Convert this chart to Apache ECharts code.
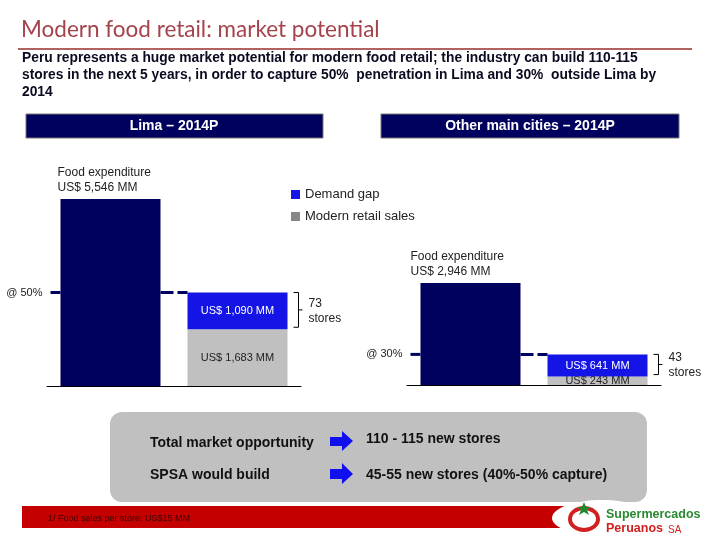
<!DOCTYPE html>
<html>
<head>
<meta charset="utf-8">
<script src="https://cdn.jsdelivr.net/npm/echarts@6/dist/echarts.min.js"></script>
<style>
  html, body { margin: 0; padding: 0; background: #fff; }
  #chart { width: 720px; height: 540px; }
</style>
</head>
<body>
<div id="chart"></div>
<script>
const regions = ["Lima – 2014P", "Other main cities – 2014P"];
const barNames = ["Food expenditure", "Target"];
const foodExpenditure = [5546, 2946];
const modernRetail = [1683, 243];
const demandGap = [1090, 641];
const penetration = [50, 30];
const newStores = [73, 43];

const NAVY = "#00005e";
const BLUE = "#1414e6";
const GRAY = "#c0c0c0";
const FONT = 'Arial, "Liberation Sans", sans-serif';

const money = (v) => "US$ " + v.toLocaleString("en-US") + " MM";

const grids = [
  { left: 47, width: 254, top: 199, height: 187 },
  { left: 407, width: 254, top: 283, height: 102 },
];
const foodLabelPos = [[-3, -34], [-10, -34]];

function regionSeries(i) {
  const common = {
    type: "bar", xAxisIndex: i, yAxisIndex: i, stack: "r" + i,
    barWidth: 100, animation: false,
  };
  return [
    {
      ...common, name: "Food expenditure",
      data: [foodExpenditure[i], "-"],
      itemStyle: { color: NAVY },
      label: {
        show: true, position: foodLabelPos[i], align: "left",
        fontFamily: FONT, fontSize: 12, lineHeight: 15, color: "#222",
        formatter: () => "Food expenditure\n" + money(foodExpenditure[i]),
      },
    },
    {
      ...common, name: "Modern retail sales",
      data: ["-", modernRetail[i]],
      itemStyle: { color: GRAY },
      label: {
        show: true, position: "inside", fontFamily: FONT, fontSize: 11,
        color: "#222", formatter: () => money(modernRetail[i]),
      },
    },
    {
      ...common, name: "Demand gap",
      data: ["-", demandGap[i]],
      itemStyle: { color: BLUE },
      label: {
        show: true, position: "inside", fontFamily: FONT, fontSize: 11,
        color: "#fff", formatter: () => money(demandGap[i]),
      },
    },
  ];
}

const BODY = "bold 14px " + FONT;

const staticGraphic = [
  // title
  { type: "text", left: 21, top: 18, style: { text: "Modern food retail: market potential",
    font: '400 22.5px Lato, "Open Sans", sans-serif', fill: "#a4434c" } },
  { type: "line", shape: { x1: 18, y1: 49, x2: 692, y2: 49 }, style: { stroke: "#b36262", lineWidth: 2 } },
  // subtitle
  { type: "text", left: 22, top: 50, style: {
    text: "Peru represents a huge market potential for modern food retail; the industry can build 110-115\nstores in the next 5 years, in order to capture 50%  penetration in Lima and 30%  outside Lima by\n2014",
    font: "bold 13.8px " + FONT, lineHeight: 17, fill: "#0a0a20" } },
  // region headers
  { type: "rect", shape: { x: 26, y: 114, width: 297, height: 24 }, style: { fill: NAVY, stroke: "#777", lineWidth: 1 } },
  { type: "text", x: 174, y: 126, style: { text: regions[0], font: BODY, fill: "#fff", align: "center", verticalAlign: "middle" } },
  { type: "rect", shape: { x: 381, y: 114, width: 298, height: 24 }, style: { fill: NAVY, stroke: "#777", lineWidth: 1 } },
  { type: "text", x: 530, y: 126, style: { text: regions[1], font: BODY, fill: "#fff", align: "center", verticalAlign: "middle" } },
  // opportunity box
  { type: "rect", shape: { x: 110, y: 412, width: 537, height: 90, r: 12 }, style: { fill: "#c0c0c0" } },
  { type: "text", x: 150, y: 443, style: { text: "Total market opportunity", font: BODY, fill: "#111", verticalAlign: "middle" } },
  { type: "text", x: 150, y: 475, style: { text: "SPSA would build", font: BODY, fill: "#111", verticalAlign: "middle" } },
  { type: "polygon", shape: { points: [[330, 437], [342, 437], [342, 431], [353, 441], [342, 451], [342, 446], [330, 446]] }, style: { fill: "#1010ee" } },
  { type: "polygon", shape: { points: [[330, 469], [342, 469], [342, 463], [353, 474], [342, 484], [342, 479], [330, 479]] }, style: { fill: "#1010ee" } },
  { type: "text", x: 366, y: 439, style: { text: "110 - 115 new stores", font: BODY, fill: "#111", verticalAlign: "middle" } },
  { type: "text", x: 366, y: 475, style: { text: "45-55 new stores (40%-50% capture)", font: BODY, fill: "#111", verticalAlign: "middle" } },
  // footer
  { type: "rect", shape: { x: 22, y: 506, width: 570, height: 22 }, style: { fill: "#c40000" } },
  { type: "text", x: 48, y: 519, style: { text: "1/ Food sales per store: US$15 MM", font: "9px " + FONT, fill: "#3a0000", verticalAlign: "middle" } },
  { type: "ellipse", shape: { cx: 602, cy: 518, rx: 50, ry: 18 }, style: { fill: "#fff" } },
  { type: "ellipse", shape: { cx: 584, cy: 519, rx: 14, ry: 11 }, style: { fill: "none", stroke: "#d02020", lineWidth: 4 } },
  { type: "polygon", shape: { points: [[584, 502], [586, 507], [591, 507], [587, 510], [589, 515], [584, 512], [579, 515], [581, 510], [577, 507], [582, 507]] }, style: { fill: "#1e8a2e" } },
  { type: "text", x: 606, y: 515, style: { text: "Supermercados", font: "bold 12.5px " + FONT, fill: "#2a8a32", verticalAlign: "middle" } },
  { type: "text", x: 606, y: 529, style: { text: "Peruanos", font: "bold 12.5px " + FONT, fill: "#d02020", verticalAlign: "middle" } },
  { type: "text", x: 668, y: 530, style: { text: "SA", font: "10px " + FONT, fill: "#d02020", verticalAlign: "middle" } },
];

const option = {
  animation: false,
  grid: grids,
  xAxis: grids.map((g, i) => ({
    type: "category", gridIndex: i, data: barNames,
    axisLine: { lineStyle: { color: "#000", width: 1 } },
    axisTick: { show: false }, axisLabel: { show: false },
  })),
  yAxis: grids.map((g, i) => ({
    type: "value", gridIndex: i, min: 0, max: foodExpenditure[i], show: false,
  })),
  legend: {
    orient: "vertical", left: 286, top: 183,
    itemWidth: 9, itemHeight: 9, itemGap: 9, icon: "rect",
    textStyle: { fontFamily: FONT, fontSize: 13, color: "#222" },
    data: [
      { name: "Demand gap", itemStyle: { color: BLUE } },
      { name: "Modern retail sales", itemStyle: { color: "#888" } },
    ],
  },
  series: [...regionSeries(0), ...regionSeries(1)],
  graphic: staticGraphic,
};

const chart = echarts.init(document.getElementById("chart"));
chart.setOption(option);

// target line, percentage label and store brackets, positioned from the data
function annotate(i) {
  const px = (c, v) => chart.convertToPixel({ xAxisIndex: i, yAxisIndex: i }, [c, v]);
  const [x0] = px(0, 0);
  const [x1, yTop] = px(1, modernRetail[i] + demandGap[i]);
  const [, yMid] = px(1, modernRetail[i]);
  const half = 50;
  const bx = x1 + half + 11;
  const yb = yMid - 2;
  const ym = (yTop + yb) / 2;
  return [
    { type: "line", shape: { x1: x0 - half - 10, y1: yTop, x2: x0 - half, y2: yTop }, style: { stroke: NAVY, lineWidth: 3 } },
    { type: "line", shape: { x1: x0 + half, y1: yTop, x2: x1 - half, y2: yTop }, style: { stroke: NAVY, lineWidth: 3, lineDash: [13, 4] } },
    { type: "text", x: x0 - half - 18, y: yTop, style: { text: "@ " + penetration[i] + "%", font: "11px " + FONT, fill: "#222", align: "right", verticalAlign: "middle" } },
    { type: "polyline", shape: { points: [[bx - 5, yTop], [bx, yTop], [bx, yb], [bx - 5, yb]] }, style: { stroke: "#000", lineWidth: 1, fill: "none" } },
    { type: "line", shape: { x1: bx, y1: ym, x2: bx + 4, y2: ym }, style: { stroke: "#000", lineWidth: 1 } },
    { type: "text", x: bx + 10, y: ym + 1, style: { text: newStores[i] + "\nstores", font: "12px " + FONT, lineHeight: 15, fill: "#222", verticalAlign: "middle" } },
  ];
}

chart.setOption({ graphic: [...staticGraphic, ...annotate(0), ...annotate(1)] });
</script>
</body>
</html>
